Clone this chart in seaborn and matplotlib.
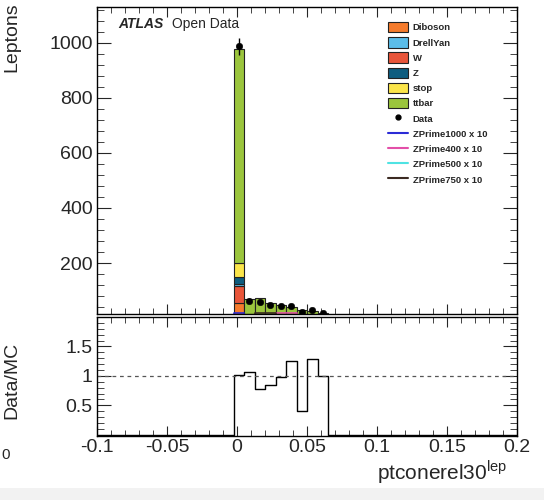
import numpy as np
import pandas as pd
import matplotlib
matplotlib.use('Agg')
import matplotlib.pyplot as plt
from matplotlib.patches import Patch, Rectangle
from matplotlib.lines import Line2D
from matplotlib.ticker import MultipleLocator, FixedLocator
import seaborn as sns

# ---------------- data ----------------
bin_lo, bin_hi, n_bins = -0.1, 0.2, 40
first_bin = 13            # index of first filled bin
diboson  = [56, 3, 3, 2, 2, 2, 1, 1, 1]
drellyan = [8, 1, 1, 1, 1, 1, 1, 1, 0]
w_bkg    = [61, 4, 4, 3, 3, 2, 2, 1, 1]
z_bkg    = [25, 2, 3, 3, 2, 2, 1, 1, 1]
stop     = [51, 4, 4, 3, 3, 2, 2, 2, 1]
ttbar    = [775, 56, 59, 44, 37, 32, 23, 20, 15]
data     = [987, 64, 59, 48, 45, 45, 24, 28, 20]
ratio    = [1.02, 1.06, 0.78, 0.84, 0.99, 1.26, 0.40, 1.28, 1.00]
zp1000   = [19, 3, 2, 2, 1, 1, 1, 1, 0]
zp400    = [8, 5, 6, 10, 18, 18, 5, 3, 1]
zp500    = [10, 4, 5, 6, 8, 7, 3, 2, 1]
zp750    = [12, 5, 18, 18, 6, 4, 2, 1, 1]

bkg_names  = ['Diboson', 'DrellYan', 'W', 'Z', 'stop', 'ttbar']
bkg_values = {'Diboson': diboson, 'DrellYan': drellyan, 'W': w_bkg,
              'Z': z_bkg, 'stop': stop, 'ttbar': ttbar}
bkg_colors = {'Diboson': '#f57b2c', 'DrellYan': '#5bbde9', 'W': '#e8553a',
              'Z': '#0e5d80', 'stop': '#fbe54a', 'ttbar': '#9bc53d'}
stack_bottom_to_top = ['Diboson', 'W', 'DrellYan', 'Z', 'stop', 'ttbar']
sig_names  = ['ZPrime1000 x 10', 'ZPrime400 x 10', 'ZPrime500 x 10', 'ZPrime750 x 10']
sig_values = [zp1000, zp400, zp500, zp750]
sig_colors = ['#2b2bd6', '#e34fa8', '#4fe3e3', '#3b2a22']

edges = np.linspace(bin_lo, bin_hi, n_bins + 1)
centers = 0.5 * (edges[:-1] + edges[1:])
xc = centers[first_bin:first_bin + len(data)]
hist_kw = dict(bins=n_bins, binrange=(bin_lo, bin_hi))

rows = []
for name in bkg_names:
    for x, v in zip(xc, bkg_values[name]):
        rows.append({'x': x, 'w': v, 'sample': name})
bkg_df = pd.DataFrame(rows)

# ---------------- figure ----------------
sns.set_style('ticks')
plt.rcParams['font.family'] = ['Liberation Sans', 'DejaVu Sans']
fig = plt.figure(figsize=(5.44, 5.0), dpi=100)
W, H = 544, 500
ax = fig.add_axes([97 / W, 1 - 314 / H, 420 / W, 307 / H])
axr = fig.add_axes([97 / W, 1 - 436 / H, 420 / W, 119 / H])

sns.histplot(data=bkg_df, x='x', weights='w', hue='sample',
             hue_order=stack_bottom_to_top[::-1], palette=bkg_colors,
             multiple='stack', element='bars', fill=True,
             alpha=1, edgecolor='#222222', linewidth=0.8, legend=False, ax=ax,
             **hist_kw)

for name, vals, col in zip(sig_names, sig_values, sig_colors):
    sns.histplot(x=xc, weights=vals, element='step', fill=False,
                 color=col, linewidth=1.2, ax=ax, **hist_kw)

sns.scatterplot(x=xc, y=data, color='black', s=22, edgecolor='black',
                zorder=10, ax=ax)
ax.errorbar(xc, data, yerr=np.sqrt(data), fmt='none', ecolor='black',
            elinewidth=1, capsize=0, zorder=10)

ax.set_xlim(bin_lo, bin_hi)
ax.set_ylim(15, 1130)
ax.set_xlabel('')
ax.set_ylabel('')
ax.xaxis.set_major_locator(MultipleLocator(0.05))
ax.xaxis.set_minor_locator(MultipleLocator(0.01))
ax.yaxis.set_major_locator(FixedLocator([200, 400, 600, 800, 1000]))
ax.yaxis.set_minor_locator(MultipleLocator(40))
ax.tick_params(axis='both', which='both', direction='in', top=True, right=True,
               labelbottom=False)
ax.tick_params(axis='y', which='major', length=10, labelsize=14, pad=3)
ax.tick_params(axis='y', which='minor', length=5)
ax.tick_params(axis='x', which='major', length=7)
ax.tick_params(axis='x', which='minor', length=4)

ax.text(0.05, 0.945, 'ATLAS', transform=ax.transAxes, fontsize=10,
        fontweight='bold', fontstyle='italic', va='center', ha='left')
ax.text(0.179, 0.945, 'Open Data', transform=ax.transAxes, fontsize=10,
        va='center', ha='left')

handles = [Patch(facecolor=bkg_colors[n], edgecolor='#222222', linewidth=0.8)
           for n in bkg_names]
labels = list(bkg_names)
handles.append(Line2D([], [], marker='o', color='black', linestyle='none',
                      markersize=3.5))
labels.append('Data')
for n, c in zip(sig_names, sig_colors):
    handles.append(Line2D([], [], color=c, linewidth=1.5))
    labels.append(n)
leg = ax.legend(handles, labels, loc='upper left',
                bbox_to_anchor=(388 / W, 1 - 22 / H),
                bbox_transform=fig.transFigure, frameon=False,
                prop={'size': 6.8, 'weight': 'bold'}, handlelength=2.1,
                handleheight=1.3, labelspacing=0.52, handletextpad=0.5,
                borderpad=0, borderaxespad=0)

# ratio panel
sns.histplot(x=xc, weights=ratio, element='step', fill=False,
             color='black', linewidth=1.0, ax=axr, **hist_kw)
axr.axhline(1.0, color='#555555', linestyle=(0, (3, 3)), linewidth=0.9)
axr.set_xlim(bin_lo, bin_hi)
axr.set_ylim(-0.02, 2.0)
axr.set_xlabel('')
axr.set_ylabel('')
axr.xaxis.set_minor_locator(MultipleLocator(0.01))
axr.yaxis.set_major_locator(FixedLocator([0.5, 1.0, 1.5]))
axr.yaxis.set_minor_locator(MultipleLocator(0.1))
axr.set_yticklabels(['0.5', '1', '1.5'])
axr.set_xticks([-0.1, -0.05, 0, 0.05, 0.1, 0.15, 0.2])
axr.set_xticklabels(['-0.1', '-0.05', '0', '0.05', '0.1', '0.15', '0.2'])
axr.tick_params(axis='both', which='both', direction='in', top=True, right=True)
axr.tick_params(axis='y', which='major', length=10, labelsize=14, pad=3)
axr.tick_params(axis='y', which='minor', length=5)
axr.tick_params(axis='x', which='major', length=7, labelsize=14, pad=2)
axr.tick_params(axis='x', which='minor', length=4)

for a in (ax, axr):
    for s in a.spines.values():
        s.set_linewidth(1.0)
        s.set_color('black')

fig.text(12 / W, 1 - 2 / H, 'Leptons', rotation=90, ha='center', va='top',
         fontsize=14)
fig.text(12 / W, 1 - 380 / H, 'Data/MC', rotation=90, ha='center',
         va='center', fontsize=14)
fig.text(507 / W, 1 - 472 / H, r'ptconerel30$^{\mathregular{lep}}$',
         ha='right', va='center', fontsize=15)
fig.text(1 / W, 1 - 455 / H, '0', ha='left', va='center', fontsize=11)
fig.patches.append(Rectangle((0, 0), 1, 12 / H, transform=fig.transFigure,
                             facecolor='#f2f2f2', edgecolor='none',
                             zorder=-5))

fig.savefig('out.png', dpi=100)
